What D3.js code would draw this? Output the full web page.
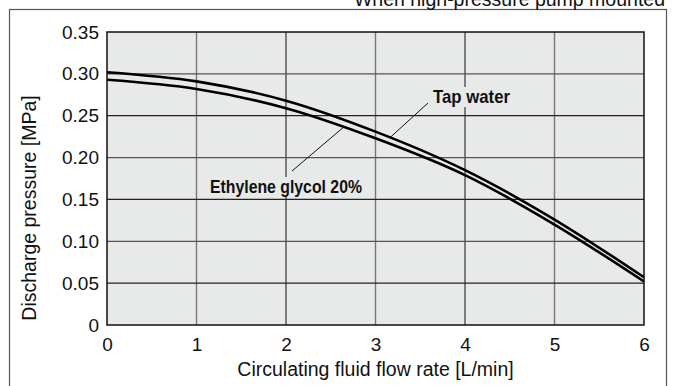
<!DOCTYPE html>
<html>
<head>
<meta charset="utf-8">
<script src="https://cdn.jsdelivr.net/npm/d3@7/dist/d3.min.js"></script>
<style>
  html, body { margin: 0; padding: 0; background: #fff; }
  svg { display: block; }
</style>
</head>
<body>
<script>
// Pump curve: discharge pressure vs. circulating fluid flow rate
const flowRate = [0, 1, 2, 3, 4, 5, 6];                                  // L/min
const tapWater = [0.302, 0.291, 0.268, 0.231, 0.185, 0.126, 0.057];      // MPa
const glycol20 = [0.293, 0.282, 0.259, 0.223, 0.179, 0.120, 0.052];      // MPa
const xTickValues = [0, 1, 2, 3, 4, 5, 6];
const yTickValues = [0, 0.05, 0.10, 0.15, 0.20, 0.25, 0.30, 0.35];
const yTickLabels = ["0", "0.05", "0.10", "0.15", "0.20", "0.25", "0.30", "0.35"];
const seriesNames = ["Tap water", "Ethylene glycol 20%"];
const noteText = "When high-pressure pump mounted";

const W = 675, H = 386;
const font = "'Liberation Sans', Arial, Helvetica, sans-serif";
const plotBg = "#e8e9e9";

const svg = d3.select("body").append("svg")
  .attr("width", W).attr("height", H);

const x = d3.scaleLinear().domain([0, 6]).range([107, 644]);
const y = d3.scaleLinear().domain([0, 0.35]).range([325, 32]);

// outer frame
svg.append("rect")
  .attr("x", 9.5).attr("y", 9.5).attr("width", 657).attr("height", 400)
  .attr("fill", "none").attr("stroke", "#555").attr("stroke-width", 1.2);

// note above the frame
svg.append("text")
  .attr("x", 665).attr("y", 6)
  .attr("text-anchor", "end")
  .attr("font-family", font).attr("font-size", 19.5)
  .attr("fill", "#111")
  .text(noteText);

// plot background
svg.append("rect")
  .attr("x", x(0)).attr("y", y(0.35))
  .attr("width", x(6) - x(0)).attr("height", y(0) - y(0.35))
  .attr("fill", plotBg);

// grid
const grid = svg.append("g");
grid.selectAll("line.v")
  .data(xTickValues.filter(d => d > 0 && d < 6))
  .join("line").attr("class", "v")
  .attr("x1", d => x(d)).attr("x2", d => x(d))
  .attr("y1", y(0.35)).attr("y2", y(0))
  .attr("stroke", d => d % 2 === 0 ? "#111" : "#777")
  .attr("stroke-width", d => d % 2 === 0 ? 1 : 1.4);
grid.selectAll("line.h")
  .data(yTickValues.filter(d => d > 0 && d < 0.35))
  .join("line").attr("class", "h")
  .attr("x1", x(0)).attr("x2", x(6))
  .attr("y1", d => y(d)).attr("y2", d => y(d))
  .attr("stroke", (d, i) => i % 2 === 0 ? "#222" : "#555")
  .attr("stroke-width", 1.2);

// axes (labels only, the grid carries the ticks)
const xAxis = d3.axisBottom(x).tickValues(xTickValues).tickSize(0).tickPadding(13)
  .tickFormat(d3.format("d"));
const gx = svg.append("g").attr("transform", `translate(0,${y(0)})`).call(xAxis);
gx.select(".domain").remove();
gx.selectAll("text").attr("font-family", font).attr("font-size", 19).attr("fill", "#111");

const yAxis = d3.axisLeft(y).tickValues(yTickValues).tickSize(0).tickPadding(8)
  .tickFormat((d, i) => yTickLabels[i]);
const gy = svg.append("g").attr("transform", `translate(${x(0)},0)`).call(yAxis);
gy.select(".domain").remove();
gy.selectAll("text").attr("font-family", font).attr("font-size", 19).attr("fill", "#111");

// axis titles
svg.append("text")
  .attr("x", (x(0) + x(6)) / 2).attr("y", 376)
  .attr("text-anchor", "middle")
  .attr("font-family", font).attr("font-size", 19.5).attr("fill", "#111")
  .text("Circulating fluid flow rate [L/min]");
svg.append("text")
  .attr("transform", `translate(36,208) rotate(-90)`)
  .attr("text-anchor", "middle")
  .attr("font-family", font).attr("font-size", 19.5).attr("fill", "#111")
  .text("Discharge pressure [MPa]");

// curves
const line = d3.line()
  .x((d, i) => x(flowRate[i]))
  .y(d => y(d))
  .curve(d3.curveMonotoneX);
[tapWater, glycol20].forEach(series => {
  svg.append("path")
    .attr("d", line(series))
    .attr("fill", "none")
    .attr("stroke", "#000")
    .attr("stroke-width", 2.6);
});

// series labels with leader lines
function valueAt(series, f) {
  return d3.scaleLinear().domain(flowRate).range(series)(f);
}
const labels = [
  { name: seriesNames[0], series: tapWater, at: 3.16, tx: 433, ty: 103, len: 77, lx: 428, ly: 103 },
  { name: seriesNames[1], series: glycol20, at: 2.64, tx: 210, ty: 193, len: 152, lx: 292, ly: 171 }
];
labels.forEach(l => {
  const t = svg.append("text")
    .attr("x", l.tx).attr("y", l.ty)
    .attr("font-family", font).attr("font-weight", "bold")
    .attr("font-size", 19).attr("fill", "#111")
    .attr("textLength", l.len).attr("lengthAdjust", "spacingAndGlyphs")
    .text(l.name);
  svg.insert("rect", () => t.node())
    .attr("x", l.tx - 2).attr("y", l.ty - 16)
    .attr("width", l.len + 4).attr("height", 20)
    .attr("fill", plotBg);
  svg.append("line")
    .attr("x1", l.lx).attr("y1", l.ly)
    .attr("x2", x(l.at)).attr("y2", y(valueAt(l.series, l.at)))
    .attr("stroke", "#111").attr("stroke-width", 1);
});

// plot frame
svg.append("rect")
  .attr("x", x(0)).attr("y", y(0.35))
  .attr("width", x(6) - x(0)).attr("height", y(0) - y(0.35))
  .attr("fill", "none").attr("stroke", "#111").attr("stroke-width", 1.5);
</script>
</body>
</html>
